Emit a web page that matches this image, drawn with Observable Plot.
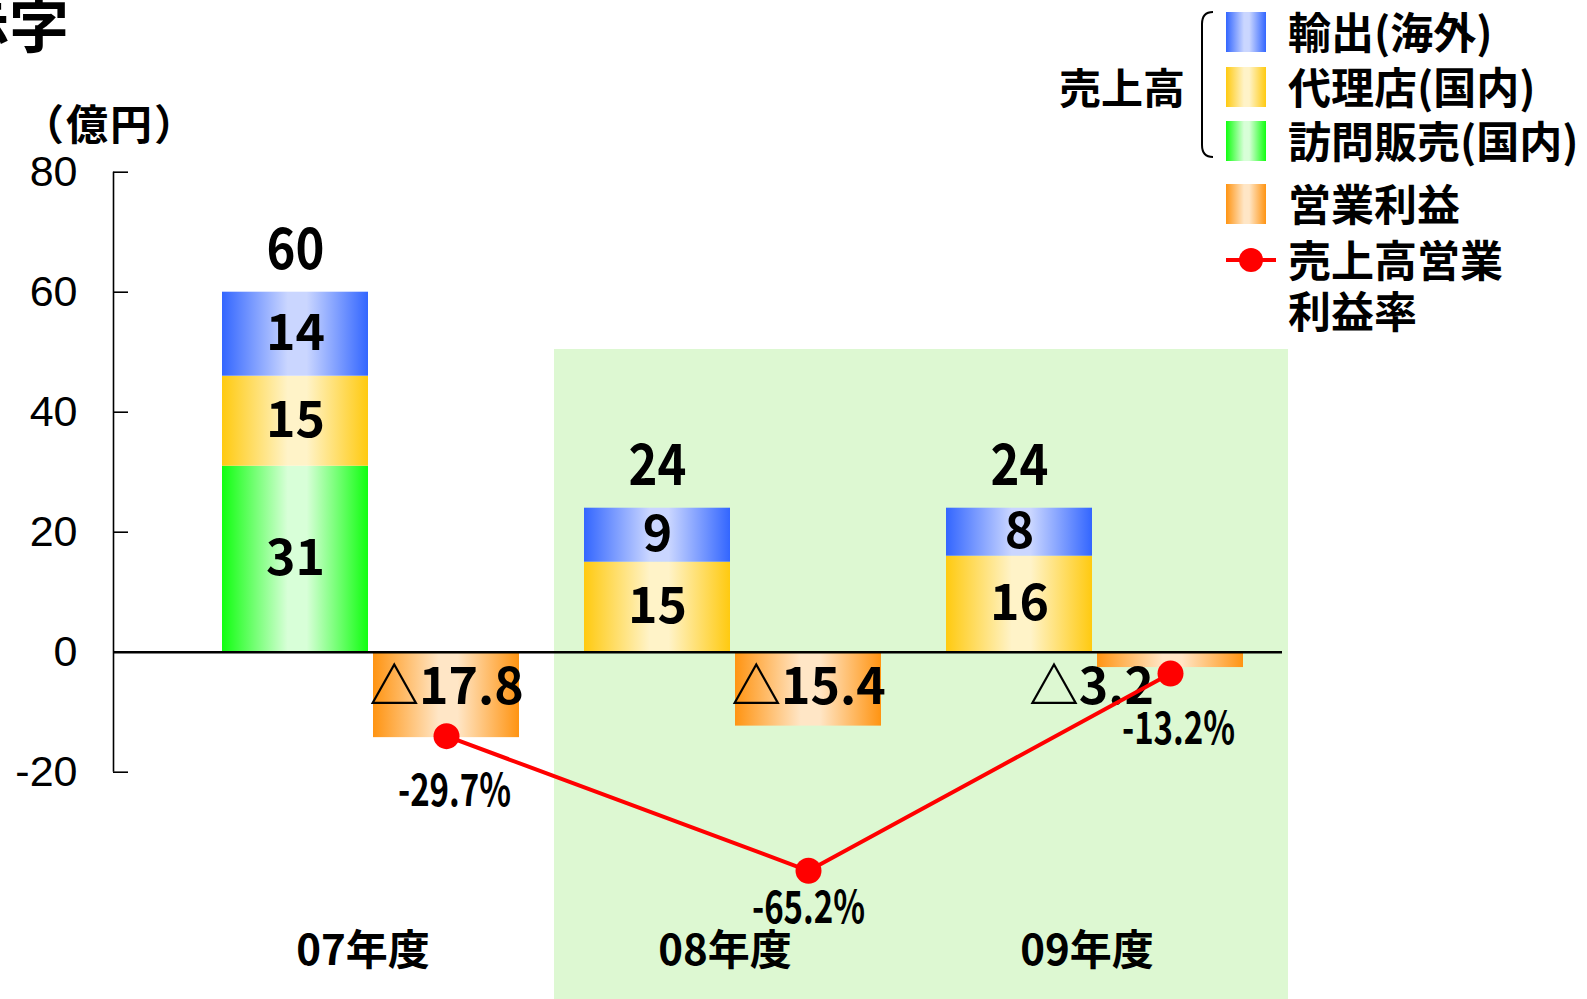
<!DOCTYPE html>
<html><head><meta charset="utf-8">
<script src="https://cdn.jsdelivr.net/npm/d3@7"></script>
<script src="https://cdn.jsdelivr.net/npm/@observablehq/plot@0.6"></script>
<style>html,body{margin:0;padding:0;background:#fff;overflow:hidden}</style>
</head><body><div id="chart"></div>
<script>
// ---- data ----
const years = ["07年度", "08年度", "09年度"];
const salesExport = [14, 9, 8];      // 輸出(海外)
const salesAgency = [15, 15, 16];    // 代理店(国内)
const salesVisit = [31, 0, 0];       // 訪問販売(国内)
const salesTotal = [60, 24, 24];     // 売上高 合計
const opProfit = [-17.8, -15.4, -3.2];   // 営業利益
const opMargin = [-29.7, -65.2, -13.2];  // 売上高営業利益率 (%)
const yTicks = [-20, 0, 20, 40, 60, 80];
const highlightYears = ["08年度", "09年度"];

// ---- layout ----
const W = 1587, H = 999;
const groupPx = 362, firstBarPx = 222, axisPx = 113;
const barW = 146 / groupPx, barGap = 5 / groupPx;
const axisX = (axisPx - firstBarPx) / groupPx;
const pxPerUnit = 6, zeroPx = 651.7;
const yMax = zeroPx / pxPerUnit, yMin = -(H - zeroPx) / pxPerUnit;
const profitAxisK = 0.8;                 // secondary axis for 営業利益 bars
const marginAxis = {zero: 4.78, k: 0.632}; // secondary axis for % line

const rows = years.map((year, i) => ({
  year, i,
  exp: salesExport[i], agc: salesAgency[i], vis: salesVisit[i],
  total: salesTotal[i], profit: opProfit[i], margin: opMargin[i]
}));
const segs = rows.flatMap(r => [
  {i: r.i, key: "vis", y1: 0, y2: r.vis, v: r.vis},
  {i: r.i, key: "agc", y1: r.vis, y2: r.vis + r.agc, v: r.agc},
  {i: r.i, key: "exp", y1: r.vis + r.agc, y2: r.vis + r.agc + r.exp, v: r.exp}
]);
const salesCx = d => d.i + barW / 2;
const profitCx = d => d.i + barW + barGap + barW / 2;
const marginY = d => marginAxis.zero + marginAxis.k * d.margin;
const fitsInside = d => Math.abs(d.profit * profitAxisK) * pxPerUnit >= 40;
const minMargin = d3.min(opMargin);
const hiIdx = highlightYears.map(y => years.indexOf(y));

const FONT = "'Noto Sans CJK JP', 'Noto Sans', sans-serif";

const chart = Plot.plot({
  width: W, height: H,
  marginLeft: axisPx, marginRight: 0, marginTop: 0, marginBottom: 0,
  style: {background: "#fff", fontFamily: FONT, color: "#000"},
  x: {type: "linear", domain: [0, 3], range: [firstBarPx, firstBarPx + 3 * groupPx], axis: null},
  y: {domain: [yMin, yMax], axis: null},
  marks: [
    Plot.rect([hiIdx], {
      x1: d => d3.min(d) - 30 / groupPx,
      x2: d => d3.max(d) + (2 * barW + barGap) + 45 / groupPx,
      y1: yMin, y2: 50.45, fill: "#ddf8d2"
    }),
    ...["vis", "agc", "exp"].map(key =>
      Plot.rect(segs.filter(d => d.key === key && d.v > 0), {
        x1: d => d.i, x2: d => d.i + barW, y1: "y1", y2: "y2", fill: `url(#g-${key})`
      })),
    Plot.rect(rows, {
      x1: d => d.i + barW + barGap, x2: d => d.i + 2 * barW + barGap,
      y1: 0, y2: d => d.profit * profitAxisK, fill: "url(#g-pro)"
    }),
    Plot.ruleY([0], {x1: axisX, x2: 2 + 2 * barW + barGap + 39 / groupPx, stroke: "#000", strokeWidth: 2.5}),
    Plot.ruleX([axisX], {y1: d3.min(yTicks), y2: d3.max(yTicks), stroke: "#000", strokeWidth: 1.6}),
    Plot.ruleY(yTicks, {x1: axisX, x2: axisX + 15 / groupPx, stroke: "#000", strokeWidth: 1.6}),
    Plot.axisY({ticks: yTicks, tickSize: 0, tickPadding: 36, tickFormat: d => String(d),
      fontSize: 43, fontFamily: "'Liberation Sans', Arial, sans-serif", label: null, anchor: "left"}),
    // segment labels
    Plot.text(segs.filter(d => d.v > 0), {
      x: salesCx, y: d => (d.y1 + d.y2) / 2, text: d => String(d.v),
      fontSize: 50, fontWeight: "bold", fill: "#000"
    }),
    // totals
    Plot.text(rows, {x: salesCx, y: "total", dy: -41, text: d => String(d.total),
      fontSize: 57, fontWeight: "bold", fill: "#000"}),
    // profit labels
    Plot.text(rows.filter(fitsInside), {x: profitCx, y: 0, dy: 36,
      text: d => "△" + Math.abs(d.profit).toFixed(1), fontSize: 50, fontWeight: "bold", fill: "#000"}),
    Plot.text(rows.filter(d => !fitsInside(d)), {x: profitCx, y: 0, dy: 36, dx: -79,
      text: d => "△" + Math.abs(d.profit).toFixed(1), fontSize: 50, fontWeight: "bold", fill: "#000"}),
    // margin line
    Plot.line(rows, {x: profitCx, y: marginY, stroke: "#ff0000", strokeWidth: 4}),
    Plot.dot(rows, {x: profitCx, y: marginY, r: 13, fill: "#ff0000"}),
    Plot.text(rows.filter(d => d.margin !== minMargin), {x: profitCx, y: marginY, dy: 56, dx: 8,
      text: d => d.margin.toFixed(1) + "%", fontSize: 44, fontWeight: "bold", fill: "#000"}),
    Plot.text(rows.filter(d => d.margin === minMargin), {x: profitCx, y: marginY, dy: 38,
      text: d => d.margin.toFixed(1) + "%", fontSize: 44, fontWeight: "bold", fill: "#000"}),
    // category labels
    Plot.text(rows, {x: d => d.i + barW + barGap / 2, frameAnchor: "bottom", lineAnchor: "middle", dy: -48, dx: -8,
      text: "year", fontSize: 42, fontWeight: "bold", fill: "#000"})
  ]
});
document.getElementById("chart").appendChild(chart);

const svg = d3.select(chart);
// gradients
const defs = svg.insert("defs", ":first-child");
const grads = {
  exp: ["#3366ff", "#cad6ff"],
  agc: ["#ffca10", "#fff3c8"],
  vis: ["#10ff10", "#d8ffd8"],
  pro: ["#ff9412", "#ffe6c6"]
};
for (const [k, [dark, light]] of Object.entries(grads)) {
  const g = defs.append("linearGradient").attr("id", `g-${k}`).attr("x1", 0).attr("x2", 1).attr("y1", 0).attr("y2", 0);
  g.append("stop").attr("offset", "0%").attr("stop-color", dark);
  g.append("stop").attr("offset", "45%").attr("stop-color", light);
  g.append("stop").attr("offset", "58%").attr("stop-color", light);
  g.append("stop").attr("offset", "100%").attr("stop-color", dark);
}

// condensed figures (totals and percentages)
const totalSet = new Set(salesTotal.map(String));
svg.selectAll('g[aria-label="text"] text').each(function () {
  const t = this.textContent;
  let f = null;
  if (t.endsWith("%")) f = 0.75;
  else if (totalSet.has(t) && +this.closest("g").getAttribute("font-size") === 57) f = 0.86;
  if (f) {
    const w = this.getComputedTextLength();
    this.setAttribute("textLength", w * f);
    this.setAttribute("lengthAdjust", "spacingAndGlyphs");
  }
});

// annotations
const ann = svg.append("g").attr("font-family", FONT).attr("font-weight", "bold").attr("fill", "#000");
ann.append("text").attr("x", 69).attr("y", 48).attr("text-anchor", "end").attr("font-size", 60).text("赤字");
ann.append("text").attr("x", 110).attr("y", 121).attr("text-anchor", "middle")
  .attr("dominant-baseline", "central").attr("font-size", 42).attr("letter-spacing", 2).text("（億円）");

// legend
const leg = svg.append("g").attr("font-family", FONT).attr("font-weight", "bold").attr("font-size", 43)
  .attr("fill", "#000").attr("text-anchor", "start");
[{y: 12, k: "exp"}, {y: 67, k: "agc"}, {y: 121, k: "vis"}, {y: 184, k: "pro"}].forEach(s =>
  leg.append("rect").attr("x", 1226).attr("y", s.y).attr("width", 40).attr("height", 40).attr("fill", `url(#g-${s.k})`));
[{y: 30, t: "輸出(海外)"}, {y: 85, t: "代理店(国内)"}, {y: 139, t: "訪問販売(国内)"},
 {y: 202, t: "営業利益"}, {y: 258, t: "売上高営業"}, {y: 309, t: "利益率"}].forEach(s =>
  leg.append("text").attr("x", 1288).attr("y", s.y).attr("dominant-baseline", "central").text(s.t));
leg.append("text").attr("x", 1059).attr("y", 85).attr("dominant-baseline", "central").attr("font-size", 42).text("売上高");
leg.append("path").attr("d", "M1213,12 Q1202,12 1202,24 L1202,145 Q1202,157 1213,157")
  .attr("fill", "none").attr("stroke", "#000").attr("stroke-width", 2);
leg.append("line").attr("x1", 1226).attr("x2", 1276).attr("y1", 260).attr("y2", 260)
  .attr("stroke", "#ff0000").attr("stroke-width", 4);
leg.append("circle").attr("cx", 1251).attr("cy", 260).attr("r", 12).attr("fill", "#ff0000");
</script>
</body></html>
